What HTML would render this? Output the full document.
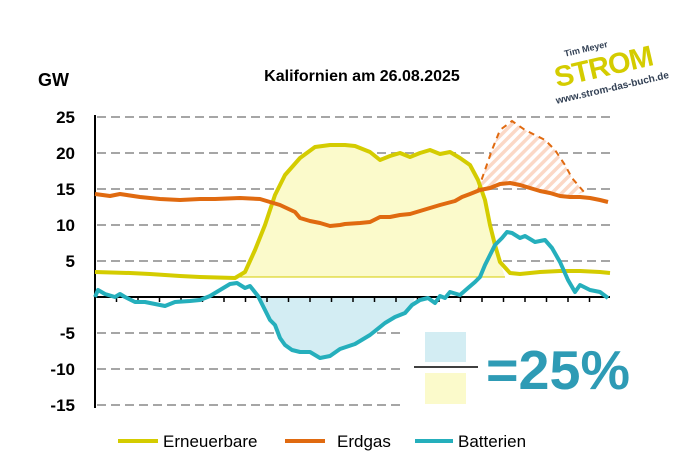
<!DOCTYPE html>
<html><head><meta charset="utf-8"><style>
html,body{margin:0;padding:0;background:#fff;}
svg{display:block;font-family:"Liberation Sans",Arial,sans-serif;}
</style></head><body>
<svg width="679" height="468" viewBox="0 0 679 468" xmlns="http://www.w3.org/2000/svg">
<defs>
<pattern id="hatch" patternUnits="userSpaceOnUse" width="7" height="7" patternTransform="rotate(45)">
<rect width="7" height="7" fill="#fff"/>
<rect width="3.5" height="7" fill="#fbd8c6"/>
</pattern>
</defs>
<g stroke="#a6a6a6" stroke-width="2" stroke-dasharray="9,5">
<line x1="97" y1="117" x2="612" y2="117"/>
<line x1="97" y1="153" x2="612" y2="153"/>
<line x1="97" y1="189" x2="612" y2="189"/>
<line x1="97" y1="225" x2="612" y2="225"/>
<line x1="97" y1="261" x2="612" y2="261"/>
<line x1="97" y1="333" x2="405" y2="333"/>
<line x1="97" y1="369" x2="405" y2="369"/>
<line x1="97" y1="405" x2="405" y2="405"/>
</g>
<polygon fill="#fbfacb" points="235,277 245,272 255,250 265,225 275,195 285,175 300,158 315,147 330,145 345,145 355,146 370,152 380,160 390,156 400,153 410,157 420,153 430,150 440,154 450,152 460,158 470,165 478,180 485,200 490,225 495,245 500,262 505,277"/>
<line x1="235" y1="277" x2="505" y2="277" stroke="#d4cc00" stroke-width="1"/>
<polygon fill="#d3edf3" points="258,297 265,310 270,320 275,325 280,338 285,345 292,350 300,352 310,352 320,358 330,356 340,349 355,344 370,335 385,323 395,317 405,313 412,305 415,297"/>
<polygon fill="url(#hatch)" points="478,190 492,150 500,130 512,121 525,130 545,140 555,150 565,165 572,178 584,192 570,197 560,196 550,193 540,191 530,188 520,185 510,183 500,184 490,188"/>
<polyline fill="none" stroke="#e06a10" stroke-width="2" stroke-dasharray="6,5" points="478,190 492,150 500,130 512,121 525,130 545,140 555,150 565,165 572,178 584,192"/>
<line x1="95" y1="115" x2="95" y2="408" stroke="#000" stroke-width="2"/>
<line x1="95" y1="297" x2="610" y2="297" stroke="#000" stroke-width="2"/>
<g stroke="#000" stroke-width="1.5">
<line x1="116.5" y1="297" x2="116.5" y2="302"/><line x1="138" y1="297" x2="138" y2="302"/><line x1="159.5" y1="297" x2="159.5" y2="302"/><line x1="181" y1="297" x2="181" y2="302"/><line x1="202.5" y1="297" x2="202.5" y2="302"/><line x1="224" y1="297" x2="224" y2="302"/><line x1="245.5" y1="297" x2="245.5" y2="302"/><line x1="267" y1="297" x2="267" y2="302"/><line x1="288.5" y1="297" x2="288.5" y2="302"/><line x1="310" y1="297" x2="310" y2="302"/><line x1="331.5" y1="297" x2="331.5" y2="302"/><line x1="353" y1="297" x2="353" y2="302"/><line x1="374.5" y1="297" x2="374.5" y2="302"/><line x1="396" y1="297" x2="396" y2="302"/><line x1="417.5" y1="297" x2="417.5" y2="302"/><line x1="439" y1="297" x2="439" y2="302"/><line x1="460.5" y1="297" x2="460.5" y2="302"/><line x1="482" y1="297" x2="482" y2="302"/><line x1="503.5" y1="297" x2="503.5" y2="302"/><line x1="525" y1="297" x2="525" y2="302"/><line x1="546.5" y1="297" x2="546.5" y2="302"/><line x1="568" y1="297" x2="568" y2="302"/><line x1="589.5" y1="297" x2="589.5" y2="302"/>
</g>
<polyline fill="none" stroke="#d4cc00" stroke-width="4" stroke-linejoin="round" points="95,272 130,273 150,274 180,276 200,277 235,278 245,272 255,250 265,225 275,195 285,175 300,158 315,147 330,145 345,145 355,146 370,152 380,160 390,156 400,153 410,157 420,153 430,150 440,154 450,152 460,158 470,165 478,180 485,200 490,225 495,245 500,262 510,273 520,274 540,272 560,271 580,271 600,272 610,273"/>
<polyline fill="none" stroke="#e06a10" stroke-width="4" stroke-linejoin="round" points="95,194 110,196 120,194 140,197 160,199 180,200 200,199 215,199 240,198 260,199 280,205 295,212 300,218 310,221 320,223 330,226 340,225 345,224 360,223 370,222 380,217 390,217 400,215 410,214 420,211 440,205 455,201 462,197 470,194 480,190 490,188 500,184 510,183 520,185 530,188 540,191 550,193 560,196 570,197 580,197 590,198 600,200 608,202"/>
<polyline fill="none" stroke="#25afbc" stroke-width="4" stroke-linejoin="round" points="95,297 98,290 105,294 115,297 120,294 125,297 135,302 145,302 155,304 165,306 175,302 190,301 200,300 210,296 220,290 230,284 237,283 245,288 250,286 258,296 265,310 270,320 275,325 280,338 285,345 292,350 300,352 310,352 320,358 330,356 340,349 355,344 370,335 385,323 395,317 405,313 412,305 420,300 428,298 435,303 440,296 445,298 450,292 460,295 468,288 475,282 480,277 485,265 490,255 495,245 502,238 507,232 512,233 520,238 525,236 535,242 545,240 552,248 560,262 568,280 575,292 580,285 590,290 600,292 608,298"/>
<g font-size="17" font-weight="bold" fill="#000" text-anchor="end">
<text x="75" y="123">25</text><text x="75" y="159">20</text><text x="75" y="195">15</text><text x="75" y="231">10</text><text x="75" y="267">5</text><text x="75" y="339">-5</text><text x="75" y="375">-10</text><text x="75" y="411">-15</text>
</g>
<text x="38" y="86" font-size="18" font-weight="bold">GW</text>
<text x="362" y="81" font-size="16" font-weight="bold" text-anchor="middle">Kalifornien am 26.08.2025</text>
<g transform="rotate(-13 605 65)">
<text x="590" y="48" font-size="9" font-weight="bold" fill="#334155" text-anchor="middle">Tim Meyer</text>
<text x="603" y="76" font-size="29" font-weight="bold" fill="#d4cc00" text-anchor="middle" letter-spacing="-1">STROM</text>
<text x="607" y="92" font-size="10" font-weight="bold" fill="#334155" text-anchor="middle">www.strom-das-buch.de</text>
</g>
<rect x="425" y="332" width="41" height="30" fill="#d3edf3"/>
<line x1="414" y1="367" x2="478" y2="367" stroke="#000" stroke-width="1.5"/>
<rect x="425" y="373" width="41" height="31" fill="#fbfacb"/>
<text x="486" y="389" font-size="55" font-weight="bold" fill="#2e9bb5" textLength="144" lengthAdjust="spacingAndGlyphs">=25%</text>
<line x1="118" y1="441" x2="158" y2="441" stroke="#d4cc00" stroke-width="4"/>
<text x="163" y="447" font-size="17">Erneuerbare</text>
<line x1="285" y1="441" x2="325" y2="441" stroke="#e06a10" stroke-width="4"/>
<text x="337" y="447" font-size="17">Erdgas</text>
<line x1="415" y1="441" x2="453" y2="441" stroke="#25afbc" stroke-width="4"/>
<text x="458" y="447" font-size="17">Batterien</text>
</svg>
</body></html>
